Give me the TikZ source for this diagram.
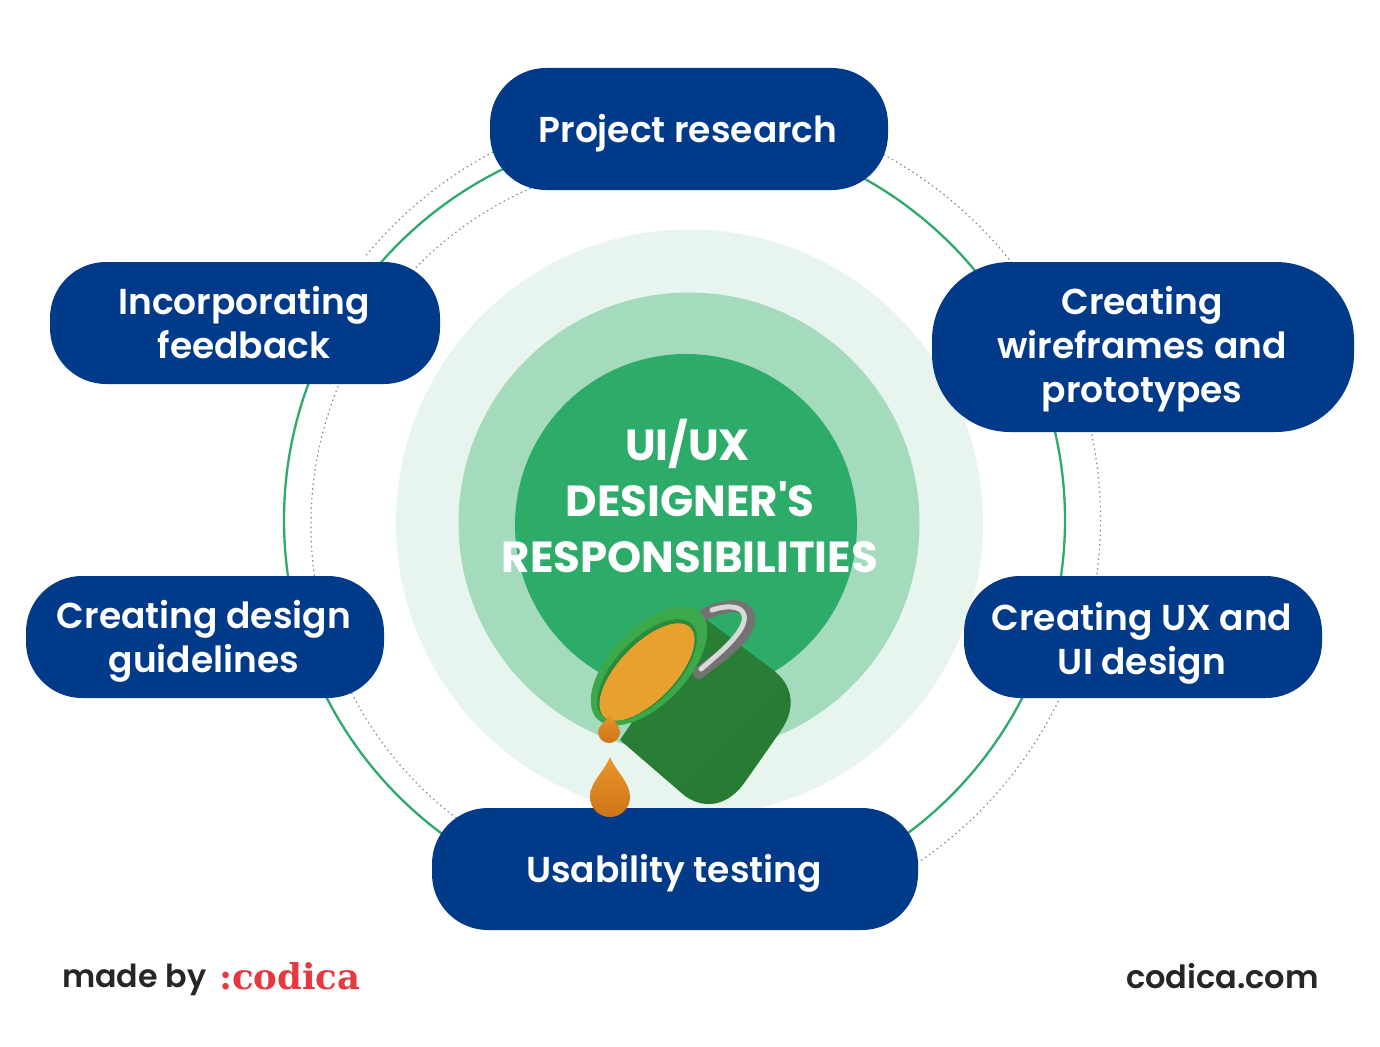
\documentclass[tikz,border=0pt]{standalone}
\usepackage{fontspec}
\setmainfont{Poppins}[UprightFont=* SemiBold, BoldFont=* Bold]
\newfontfamily\titlefont{Poppins}[UprightFont=* Bold]
\newfontfamily\madefont{Poppins}[UprightFont=* SemiBold]
\newfontfamily\logofont{DejaVu Serif}[UprightFont=* Bold]
\usetikzlibrary{positioning}
\definecolor{navy}{HTML}{023A8A}
\definecolor{ringgreen}{HTML}{2FA96C}
\definecolor{dotgrey}{HTML}{6E9A8E}
\definecolor{paleone}{HTML}{E8F5EF}
\definecolor{paletwo}{HTML}{A4DBBC}
\definecolor{midgreen}{HTML}{2DAB68}
\definecolor{logored}{HTML}{E5393F}
\definecolor{dropone}{HTML}{E9962C}
\definecolor{droptwo}{HTML}{CF7418}
\definecolor{paint}{HTML}{E8A02E}
\definecolor{rimgreen}{HTML}{3BA84A}
\definecolor{rimdark}{HTML}{2A8A3A}
\definecolor{pailone}{HTML}{2A7F36}
\definecolor{pailtwo}{HTML}{1C5F28}
\definecolor{pailthree}{HTML}{277A33}
\tikzset{
  pill/.style={fill=navy, rounded corners=56pt, inner sep=0pt, minimum height=122pt},
  pilltext/.style={text=white, align=center, inner sep=0pt, font=\fontsize{36}{44}\selectfont},
  disc/.style={circle, inner sep=0pt},
  dotring/.style={draw=dotgrey, line width=1.2pt, dash pattern=on 1.5pt off 3.3pt},
  drop/.style={top color=dropone, bottom color=droptwo},
  footer/.style={inner sep=0pt}
}
\begin{document}
\begin{tikzpicture}[x=1pt, y=-1pt]
\useasboundingbox (0,0) rectangle (1380,1046);
\fill[white] (0,0) rectangle (1380,1046);
\node[disc, fill=paleone, minimum size=587pt](c1) at (689.5,523){};
\node[disc, fill=paletwo, minimum size=461pt](c2) at (689,523){};
\node[disc, fill=midgreen, minimum size=342pt](c3) at (686,525){};
\node[disc, draw=ringgreen, line width=2.3pt, minimum size=781pt](ring) at (674.5,520){};
\coordinate (outer) at (686,519);
\coordinate (inner) at (679,525);
\draw[dotring] ([shift={(140.5:414.5pt)}]outer) arc[start angle=140.5, end angle=-57, radius=414.5pt];
\draw[dotring] ([shift={(113:368pt)}]inner) arc[start angle=113, end angle=233, radius=368pt];
\node[pill, minimum width=398pt](research) at (689,129){};
\node[pill, minimum width=422pt, minimum height=170pt, rounded corners=78pt](wire) at (1143,347){};
\node[pill, minimum width=358pt](ux) at (1143,637){};
\node[pill, minimum width=486pt](usability) at (675,869){};
\node[pill, minimum width=358pt](guide) at (205,637){};
\node[pill, minimum width=390pt](feedback) at (245,323){};
\node[pilltext](researchtext) at (688,133){Project research};
\node[pilltext](wiretext) at (1142,349){Creating\\wireframes and\\prototypes};
\node[pilltext](uxtext) at (1142,643){Creating UX and\\UI design};
\node[pilltext](usabilitytext) at (674,873){Usability testing};
\node[pilltext](guidetext) at (204,641){Creating design\\guidelines};
\node[pilltext](feedbacktext) at (244,323){Incorporating\\feedback};
\node[align=center, text=white, inner sep=0pt, font=\titlefont\fontsize{43.5}{56}\selectfont](title) at (690,496){\hspace*{-5pt}UI/UX\\DESIGNER'S\\RESPONSIBILITIES};
\shade[left color=pailone, middle color=pailtwo, right color=pailthree, shading angle=45] (703,617) -- (773,670) .. controls (793,685) and (797,708) .. (780,732) -- (745,782) .. controls (728,806) and (705,810) .. (685,796) -- (620,740) -- cycle;
\draw[black!55, line width=12pt, line cap=round] (704,615) .. controls (725,603) and (752,602) .. (749,622) .. controls (746,640) and (715,660) .. (699,673);
\draw[black!15, line width=5pt, line cap=round] (712,610) .. controls (730,604) and (747,606) .. (744,621) .. controls (741,636) and (716,656) .. (701,669);
\fill[rimgreen, rotate around={46:(649,666)}] (649,666) ellipse[x radius=74pt, y radius=38pt];
\fill[rimdark, rotate around={46:(647,670)}] (647,670) ellipse[x radius=64pt, y radius=31pt];
\fill[paint, rotate around={46:(647,672)}] (647,672) ellipse[x radius=62pt, y radius=28pt];
\shade[drop] (610,713) .. controls (613,722) and (620,725) .. (620,732) arc[start angle=0, end angle=-180, radius=11pt] .. controls (598,725) and (607,722) .. (610,713) -- cycle;
\shade[drop] (610,757) .. controls (616,772) and (630,782) .. (630,797) arc[start angle=0, end angle=-180, radius=20pt] .. controls (590,782) and (604,772) .. (610,757) -- cycle;
\node[footer, anchor=west, text=black!85, font=\madefont\fontsize{31.7}{38}\selectfont](made) at (62,980){made by};
\node[footer, anchor=west, text=logored, font=\logofont\fontsize{35.5}{38}\selectfont](logo) at (219,976){:codica};
\node[footer, anchor=east, text=black!85, font=\madefont\fontsize{32}{38}\selectfont](site) at (1319,976){codica.com};
\end{tikzpicture}
\end{document}
